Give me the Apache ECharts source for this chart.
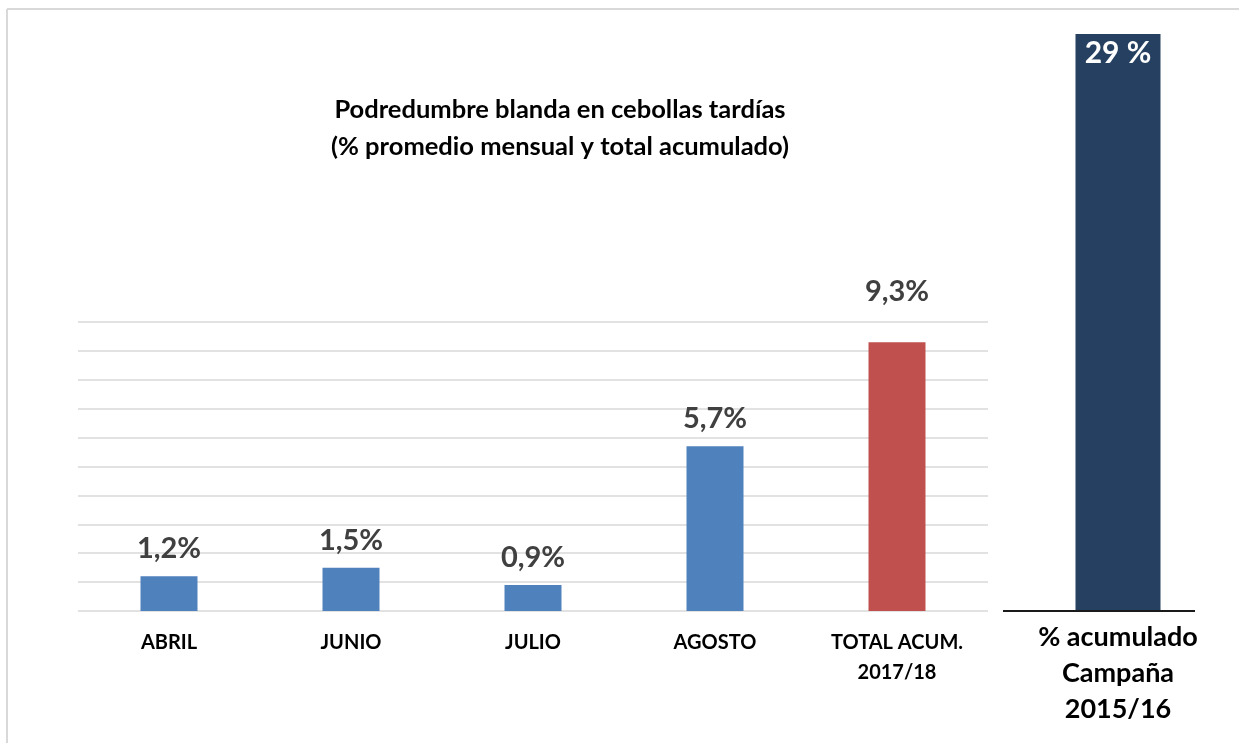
<!DOCTYPE html>
<html>
<head>
<meta charset="utf-8">
<script src="https://cdn.jsdelivr.net/npm/echarts@6/dist/echarts.min.js"></script>
<style>html,body{margin:0;padding:0;background:#fff}#c{width:1239px;height:743px}</style>
</head>
<body>
<div id="c"></div>
<script>
const categories = ['ABRIL', 'JUNIO', 'JULIO', 'AGOSTO', 'TOTAL ACUM.\n2017/18'];
const values = [1.2, 1.5, 0.9, 5.7, 9.3];
const barColors = ['#4f81bd', '#4f81bd', '#4f81bd', '#4f81bd', '#c0504d'];
const prevCategory = ['% acumulado\nCampaña\n2015/16'];
const prevValue = [29];
const titleText = 'Podredumbre blanda en cebollas tardías\n(% promedio mensual y total acumulado)';

const FONT = 'Lato';
const chart = echarts.init(document.getElementById('c'), null, {renderer: 'canvas'});
const fmt = v => v.toFixed(1).replace('.', ',') + '%';

chart.setOption({
  animation: false,
  backgroundColor: '#fff',
  title: {
    text: titleText,
    left: 555, top: 86, textAlign: 'center',
    textStyle: {fontFamily: FONT, fontSize: 25.5, fontWeight: 'bold', color: '#000', lineHeight: 37}
  },
  grid: [
    {left: 78, right: 251, top: 322, bottom: 132},
    {left: 1003, right: 6, top: 34, bottom: 132}
  ],
  xAxis: [
    {gridIndex: 0, type: 'category', data: categories,
     axisLine: {show: false}, axisTick: {show: false},
     axisLabel: {fontFamily: FONT, fontSize: 20, fontWeight: 'bold', color: '#000', lineHeight: 30, margin: 17, interval: 0}},
    {gridIndex: 1, type: 'category', data: prevCategory,
     axisLine: {show: false}, axisTick: {show: false},
     axisLabel: {fontFamily: FONT, fontSize: 27, fontWeight: 'bold', color: '#000', lineHeight: 36, margin: 8}}
  ],
  yAxis: [
    {gridIndex: 0, type: 'value', min: 0, max: 10, interval: 1,
     axisLabel: {show: false}, axisLine: {show: false}, axisTick: {show: false},
     splitLine: {lineStyle: {color: '#d9d9d9', width: 1.5}}},
    {gridIndex: 1, type: 'value', min: 0, max: 29,
     axisLabel: {show: false}, axisLine: {show: false}, axisTick: {show: false},
     splitLine: {show: false}}
  ],
  series: [
    {type: 'bar', xAxisIndex: 0, yAxisIndex: 0, barWidth: 57,
     data: values.map((v, i) => ({value: v, itemStyle: {color: barColors[i]},
       label: i === 4 ? {distance: 36} : undefined})),
     label: {show: true, position: 'top', distance: 13, formatter: p => fmt(p.value),
       fontFamily: FONT, fontSize: 29, fontWeight: 'bold', color: '#404040'}},
    {type: 'bar', xAxisIndex: 1, yAxisIndex: 1, barWidth: 85,
     data: prevValue, itemStyle: {color: '#254061'},
     label: {show: true, position: 'insideTop', distance: 4, formatter: p => p.value + ' %',
       fontFamily: FONT, fontSize: 30, fontWeight: 'bold', color: '#fff'}}
  ],
  graphic: [
    {type: 'line', shape: {x1: 1003, y1: 611, x2: 1195, y2: 611}, style: {stroke: '#1a1a1a', lineWidth: 2}, z: 10},
    {type: 'line', shape: {x1: 7, y1: 9, x2: 1239, y2: 9}, style: {stroke: '#d9d9d9', lineWidth: 2}},
    {type: 'line', shape: {x1: 7, y1: 9, x2: 7, y2: 743}, style: {stroke: '#d9d9d9', lineWidth: 2}}
  ]
});
</script>
</body>
</html>
